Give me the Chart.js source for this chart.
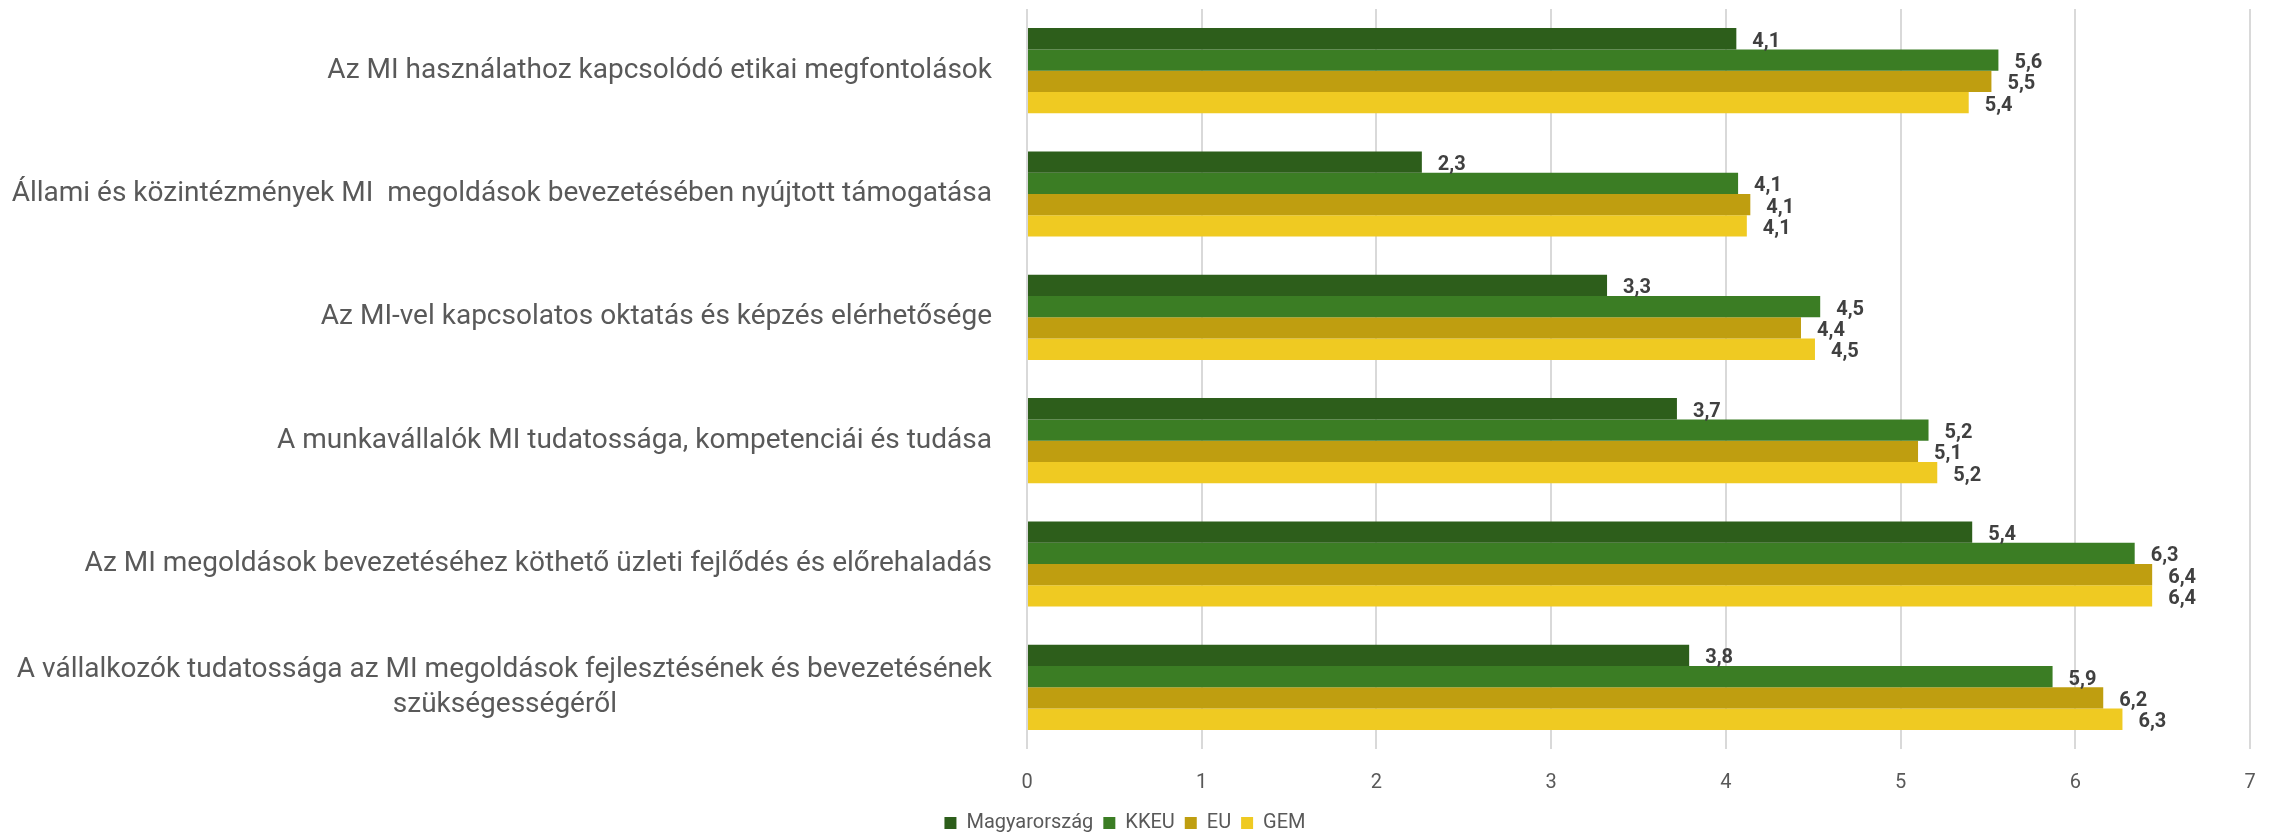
<!DOCTYPE html>
<html lang="hu">
<head>
<meta charset="utf-8">
<title>MI</title>
<script src="https://cdn.jsdelivr.net/npm/chart.js@4.4.1/dist/chart.umd.min.js"></script>
<style>
    html, body { margin: 0; padding: 0; background: #fff; }
    #wrap { width: 2272px; height: 833px; position: relative; }
</style>
</head>
<body>
<div id="wrap"><canvas id="mi-chart"></canvas></div>
<script>
(function () {
    "use strict";

    const categories = [
        "Az MI használathoz kapcsolódó etikai megfontolások",
        "Állami és közintézmények MI  megoldások bevezetésében nyújtott támogatása",
        "Az MI-vel kapcsolatos oktatás és képzés elérhetősége",
        "A munkavállalók MI tudatossága, kompetenciái és tudása",
        "Az MI megoldások bevezetéséhez köthető üzleti fejlődés és előrehaladás",
        ["A vállalkozók tudatossága az MI megoldások fejlesztésének és bevezetésének", "szükségességéről"],
    ];
    const seriesNames = ["Magyarország", "KKEU", "EU", "GEM"];
    const magyarorszag = [4.06, 2.26, 3.32, 3.72, 5.41, 3.79];
    const kkeu = [5.56, 4.07, 4.54, 5.16, 6.34, 5.87];
    const eu = [5.52, 4.14, 4.43, 5.10, 6.44, 6.16];
    const gem = [5.39, 4.12, 4.51, 5.21, 6.44, 6.27];
    const xTicks = [0, 1, 2, 3, 4, 5, 6, 7];

    const colors = ["#2d5e1b", "#3b7d24", "#bf9e10", "#efca22"];
    const labelFont = "28px Roboto";

    // második sor középre igazítása: szóközökkel kitöltve, mert a tengely jobbra igazít
    const measure = document.createElement("canvas").getContext("2d");
    measure.font = labelFont;
    const centerLines = (lines) => {
        if (!Array.isArray(lines)) return lines;
        const w1 = measure.measureText(lines[0]).width;
        return lines.map((line, i) => {
            if (i === 0) return line;
            const target = (w1 + measure.measureText(line).width) / 2;
            let padded = line;
            while (measure.measureText(padded + " ").width <= target) padded += " ";
            return padded;
        });
    };
    const yLabels = categories.map(centerLines);

    const valueLabels = {
        id: "valueLabels",
        afterDatasetsDraw(chart) {
            const ctx = chart.ctx;
            ctx.save();
            ctx.font = "bold 20px Roboto";
            ctx.fillStyle = "#404040";
            ctx.textAlign = "left";
            ctx.textBaseline = "middle";
            chart.data.datasets.forEach((ds, i) => {
                chart.getDatasetMeta(i).data.forEach((bar, j) => {
                    ctx.fillText(ds.data[j].toFixed(1).replace(".", ","), bar.x + 16, bar.y + 3);
                });
            });
            ctx.restore();
        },
    };

    const seriesData = [magyarorszag, kkeu, eu, gem];

    new Chart(document.getElementById("mi-chart").getContext("2d"), {
        type: "bar",
        data: {
            labels: yLabels,
            datasets: seriesNames.map((name, i) => ({
                label: name,
                data: seriesData[i],
                backgroundColor: colors[i],
                borderWidth: 0,
                categoryPercentage: 0.69,
                barPercentage: 1,
            })),
        },
        options: {
            indexAxis: "y",
            responsive: true,
            maintainAspectRatio: false,
            animation: false,
            layout: {
                padding: { top: 9, right: 22, left: 0, bottom: 0 },
            },
            scales: {
                x: {
                    min: 0,
                    max: 7,
                    afterBuildTicks: (scale) => {
                        scale.ticks = xTicks.map((v) => ({ value: v }));
                    },
                    afterFit: (scale) => {
                        scale.height = 54;
                        scale.paddingLeft = 0;
                        scale.paddingRight = 0;
                    },
                    grid: {
                        color: "#d9d9d9",
                        lineWidth: 2,
                        drawTicks: false,
                    },
                    border: { display: false },
                    ticks: {
                        padding: 22,
                        color: "#595959",
                        font: { family: "Roboto", size: 20 },
                    },
                },
                y: {
                    afterFit: (scale) => {
                        scale.width = 1027;
                        scale.paddingTop = 0;
                        scale.paddingBottom = 0;
                    },
                    grid: { display: false },
                    border: { display: false },
                    ticks: {
                        padding: 27,
                        color: "#595959",
                        font: { family: "Roboto", size: 28, lineHeight: 1.25 },
                    },
                },
            },
            plugins: {
                legend: {
                    position: "bottom",
                    maxHeight: 30,
                    labels: {
                        boxWidth: 12,
                        boxHeight: 12,
                        padding: 10,
                        color: "#595959",
                        font: { family: "Roboto", size: 20 },
                    },
                },
                tooltip: { enabled: false },
            },
        },
        plugins: [valueLabels],
    });
})();
</script>
</body>
</html>
